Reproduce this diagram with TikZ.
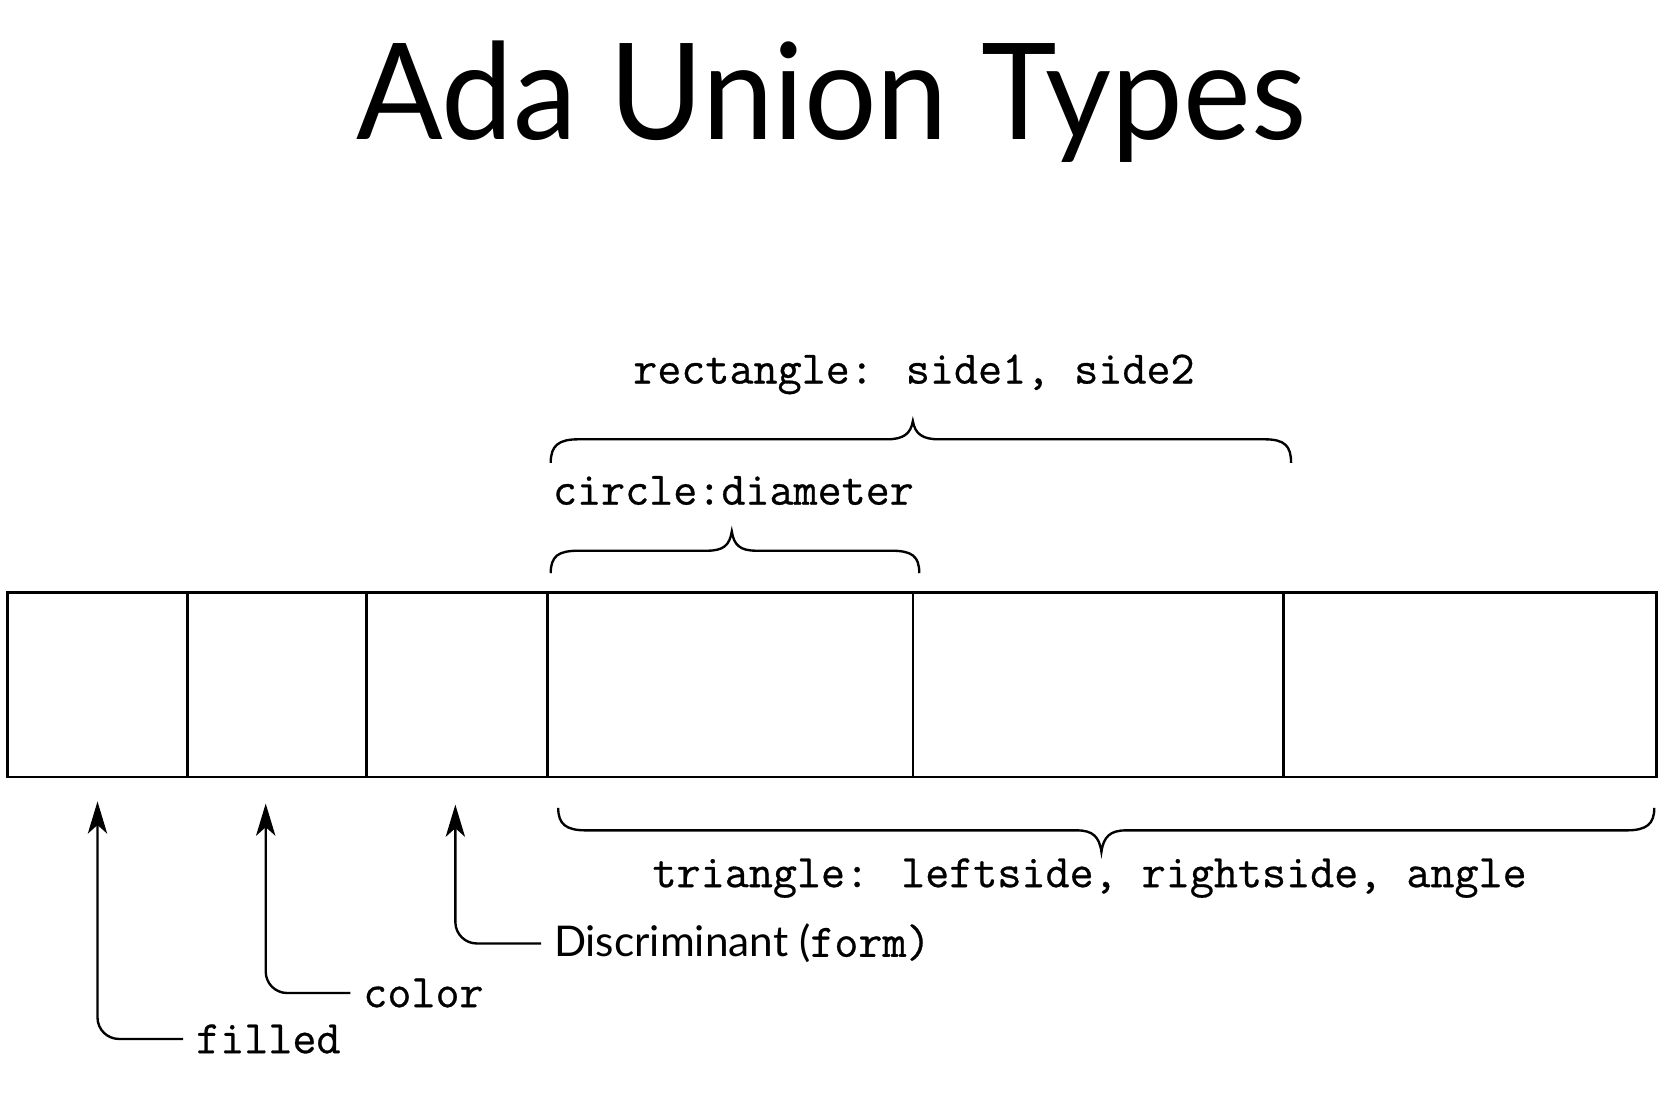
\documentclass[tikz,border=0pt]{standalone}
\usepackage{fontspec}
\setmainfont{Lato}
\newfontfamily\monof[FakeBold=0.6]{Latin Modern Mono}
\usetikzlibrary{arrows.meta}
\begin{document}
\begin{tikzpicture}[x=1pt,y=-1pt, line width=2.2pt,
  cell/.style={draw, minimum height=172pt, inner sep=0pt, outer sep=0pt, anchor=north west},
  mono/.style={font=\monof\fontsize{43.6}{50}\selectfont, inner sep=0pt},
  arr/.style={-{Stealth[length=30pt,width=18pt,inset=8pt]}, rounded corners=20pt}]
\useasboundingbox (0,0) rectangle (1568,1037.9);
\node[font=\fontsize{125}{130}\selectfont, anchor=base, inner sep=0pt, xscale=0.956] (title) at (776,130) {Ada Union Types};
% cells
\node[cell, minimum width=168pt] (c1) at (7,553) {};
\node[cell, minimum width=167pt] (c2) at (175,553) {};
\node[cell, minimum width=169pt] (c3) at (342,553) {};
\node[cell, minimum width=341pt] (c4) at (511,553) {};
\node[cell, minimum width=346pt] (c5) at (852,553) {};
\node[cell, minimum width=348pt] (c6) at (1198,553) {};
% labels
\node[mono, anchor=base] (rect) at (853,358) {rectangle: side1, side2};
\node[mono, anchor=base west] (circ) at (515,471) {circle:diameter};
\node[mono, anchor=base west] (tri) at (608,828) {triangle: leftside, rightside, angle};
% braces
\draw (514,432) .. controls (514,416) and (521,410) .. (540,410) -- (828,410)
  .. controls (843,410) and (850,405) .. (852,393)
  .. controls (854,405) and (861,410) .. (876,410) -- (1180,410)
  .. controls (1199,410) and (1205,416) .. (1205,432);
\draw (514,535) .. controls (514,519) and (521,514) .. (540,514) -- (660,514)
  .. controls (675,514) and (681,509) .. (683,496)
  .. controls (685,509) and (691,514) .. (706,514) -- (832,514)
  .. controls (851,514) and (858,519) .. (858,535);
\draw (521,754) .. controls (521,769) and (528,775) .. (547,775) -- (1005,775)
  .. controls (1020,775) and (1026,781) .. (1028,795)
  .. controls (1030,781) and (1036,775) .. (1051,775) -- (1518,775)
  .. controls (1537,775) and (1544,769) .. (1544,754);
% arrows
\coordinate (t1) at (91,748);
\coordinate (t2) at (248,750);
\coordinate (t3) at (425,751);
\node[mono, anchor=base west] (filled) at (182,983) {filled};
\node[mono, anchor=base west] (color) at (338,940) {color};
\node[font=\fontsize{39.5}{44}\selectfont, anchor=base west, inner sep=0pt] (disc) at (516,893) {Discriminant (\monof\fontsize{43.6}{50}\selectfont form)};
\draw[arr] ([xshift=-11pt]filled.west) -| (t1);
\draw[arr] ([xshift=-11pt]color.west) -| (t2);
\draw[arr] ([xshift=-11pt]disc.west) -| (t3);
\end{tikzpicture}
\end{document}
